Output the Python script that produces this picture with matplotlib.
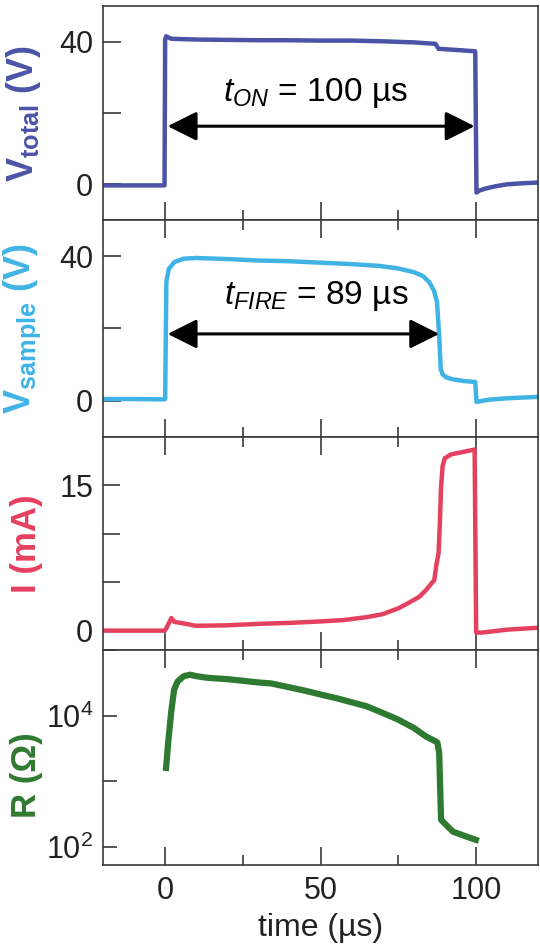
import matplotlib
matplotlib.use("Agg")
import matplotlib.pyplot as plt
from matplotlib.ticker import FixedLocator, NullFormatter, LogLocator

plt.rcParams["font.family"] = ["Liberation Sans", "DejaVu Sans"]
plt.rcParams["mathtext.fontset"] = "custom"
plt.rcParams["mathtext.rm"] = "Liberation Sans"
plt.rcParams["mathtext.it"] = "Liberation Sans:italic"
plt.rcParams["mathtext.bf"] = "Liberation Sans:bold"

# --- data (time in us) ---
t_total = [-20, -10, -0.2, 0.0, 0.3, 2, 10, 20, 30, 40, 50, 60, 70, 80, 85, 87,
           88, 95, 99.8, 100.2, 101, 103, 106, 110, 115, 120]
v_total = [-0.3, -0.3, -0.3, 40.5, 41.5, 40.8, 40.6, 40.5, 40.4, 40.4, 40.3, 40.3,
           40.1, 39.8, 39.5, 39.4, 38.0, 37.6, 37.3, -2.3, -1.8, -1.2, -0.6, 0.0, 0.3, 0.5]

t_sample = [-20, -10, -0.3, 0.0, 0.4, 1.2, 3, 6, 10, 20, 30, 40, 50, 60, 69, 75, 80,
            83, 85, 86.5, 87.5, 88.2, 88.7, 89.3, 90.5, 92.3, 96, 99.8, 100.2, 104,
            110, 120]
v_sample = [0.5, 0.5, 0.4, 0.5, 33, 36.5, 38.4, 39.3, 39.5, 39.2, 38.8, 38.6, 38.2,
            37.8, 37.3, 36.6, 35.6, 34.5, 32.8, 30.5, 27.3, 18, 8.8, 7.3, 6.5, 6.0,
            5.5, 5.2, -0.3, 0.3, 0.7, 1.1]

t_current = [-20, -10, -0.2, 0.3, 2, 3, 5, 10, 20, 30, 40, 50, 57.6, 65, 70, 75, 78,
             81.8, 84, 85.5, 86.6, 87.3, 88.0, 88.4, 88.8, 89.3, 90, 92, 95, 98,
             99.6, 100.1, 102, 110, 120]
i_current = [0, 0, 0, 0.2, 1.3, 0.9, 0.8, 0.5, 0.55, 0.7, 0.8, 0.95, 1.1, 1.4, 1.7,
             2.3, 2.8, 3.5, 4.2, 4.8, 5.2, 6.8, 8, 11, 14.8, 17, 17.8, 18.2, 18.4,
             18.6, 18.7, -0.2, -0.2, 0.1, 0.3]

t_res = [0.3, 1.0, 2.0, 2.9, 4, 6, 8, 10, 13, 16, 20, 25, 30, 34, 40, 45, 50, 55,
         60, 65, 70, 75, 80, 84, 86, 87.6, 88.2, 88.8, 90.4, 92.6, 96.9, 100]
r_res = [1600, 4000, 12000, 25000, 33000, 40000, 42000, 40000, 38000, 37000, 36000,
         34000, 32000, 31000, 27000, 24000, 21000, 18500, 16000, 13800, 11000, 8700,
         6500, 4800, 4300, 3900, 2700, 260, 217, 171, 144, 128]

x_major = [0, 50, 100]
x_minor = [25, 75]
v_ticks = [0, 20, 40]
v_labels = ["0", "", "40"]
i_ticks = [0, 5, 10, 15]
i_labels = ["0", "", "", "15"]
r_ticks = [1e2, 1e3, 1e4, 1e5]
r_labels = ["$10^{2}$", "", "$10^{4}$", ""]

c_total = "#4a53a6"
c_sample = "#40b3e5"
c_current = "#e6405f"
c_res = "#2f7a31"
spine_col = "#3a3a3a"

fig = plt.figure(figsize=(5.4, 9.52), dpi=100)
W, H = 540, 952
left, right = 103, 538
edges = [6, 220, 437, 650, 865]
axes = []
for k in range(4):
    top, bot = edges[k], edges[k + 1]
    ax = fig.add_axes([left / W, 1 - bot / H, (right - left) / W, (bot - top) / H],
                      sharex=axes[0] if axes else None)
    axes.append(ax)

ax1, ax2, ax3, ax4 = axes

ax1.plot(t_total, v_total, color=c_total, lw=3.2, solid_joinstyle="round")
ax2.plot(t_sample, v_sample, color=c_sample, lw=3.2, solid_joinstyle="round")
ax3.plot(t_current, i_current, color=c_current, lw=3.2, solid_joinstyle="round")
ax4.plot(t_res, r_res, color=c_res, lw=4.5, solid_joinstyle="round")

ax1.set_ylim(-10, 50)
ax2.set_ylim(-10, 50)
ax3.set_ylim(-2, 20)
ax4.set_yscale("log")
ax4.set_ylim(53, 1e5)
ax4.set_xlim(-20, 120)

for ax, ticks, labels in [(ax1, v_ticks, v_labels), (ax2, v_ticks, v_labels),
                          (ax3, i_ticks, i_labels)]:
    ax.set_yticks(ticks)
    ax.set_yticklabels(labels)
ax4.set_yticks(r_ticks)
ax4.set_yticklabels(r_labels)
ax4.yaxis.set_minor_locator(LogLocator(base=10, subs=range(2, 10)))
ax4.yaxis.set_minor_formatter(NullFormatter())

for k, ax in enumerate(axes):
    ax.xaxis.set_major_locator(FixedLocator(x_major))
    ax.xaxis.set_minor_locator(FixedLocator(x_minor))
    for s in ax.spines.values():
        s.set_color(spine_col)
        s.set_linewidth(1.2)
    ax.tick_params(axis="x", which="both", direction="in", top=(k > 0), bottom=True,
                   colors=spine_col, width=1.2, labelbottom=(k == 3),
                   labelsize=22, labelcolor="#222222", pad=8)
    ax.tick_params(axis="x", which="major", length=13)
    ax.tick_params(axis="x", which="minor", length=7)
    ax.tick_params(axis="y", which="both", direction="in", left=True, right=False,
                   colors=spine_col, width=1.2, labelsize=22, labelcolor="#222222",
                   pad=7)
ax1.tick_params(axis="y", which="major", length=13)
ax2.tick_params(axis="y", which="major", length=13)
ax1.set_yticks([20], minor=True)
ax2.set_yticks([20], minor=True)
ax1.tick_params(axis="y", which="minor", length=8)
ax2.tick_params(axis="y", which="minor", length=8)
ax3.tick_params(axis="y", which="major", length=12)
ax4.tick_params(axis="y", which="major", length=10)
ax4.tick_params(axis="y", which="minor", length=6)

ax1.set_ylabel(r"$\mathbf{V}_\mathbf{total}$ (V)", color=c_total, fontsize=26,
               fontweight="bold")
ax2.set_ylabel(r"$\mathbf{V}_\mathbf{sample}$ (V)", color=c_sample, fontsize=26,
               fontweight="bold")
ax3.set_ylabel("I (mA)", color=c_current, fontsize=25, fontweight="bold")
ax4.set_ylabel("R (Ω)", color=c_res, fontsize=25, fontweight="bold")
for ax in axes[:3]:
    ax.yaxis.set_label_coords(-0.138, 0.5)
ax4.yaxis.set_label_coords(-0.138, 0.42)

ax4.set_xlabel("time (µs)", fontsize=23, color="#222222", labelpad=5)

arrow = dict(arrowstyle="<|-|>,head_length=0.6,head_width=0.3", color="black",
             lw=2.2, shrinkA=0, shrinkB=0, mutation_scale=30)
ax1.annotate("", xy=(0.8, 16.3), xytext=(99.6, 16.3), arrowprops=arrow)
ax2.annotate("", xy=(0.8, 18.5), xytext=(88.2, 18.5), arrowprops=arrow)
ax1.text(48.5, 23.3, r"$t_{ON}$ = 100 µs", ha="center", va="baseline", fontsize=24)
ax2.text(48.5, 26.8, r"$t_{FIRE}$ = 89 µs", ha="center", va="baseline", fontsize=24)

fig.savefig("out.png", dpi=100)
